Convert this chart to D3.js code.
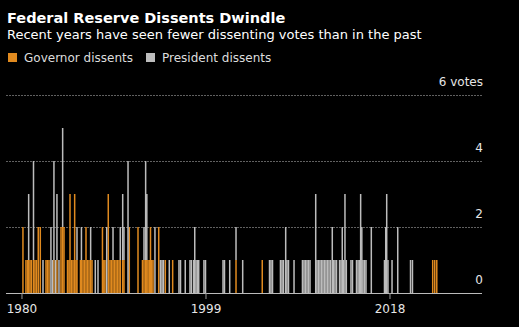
<!DOCTYPE html>
<html>
<head>
<meta charset="utf-8">
<script src="https://cdn.jsdelivr.net/npm/d3@7"></script>
<style>
  body { margin: 0; background: #000; }
  svg { display: block; }
  text { font-family: "DejaVu Sans", sans-serif; }
</style>
</head>
<body>
<svg id="chart"></svg>
<script>
// FOMC meetings: [decimal year, governor dissents, president dissents]
var meetings = [
  [1980.10, 2, 0], [1980.41, 1, 0], [1980.57, 1, 0], [1980.69, 1, 2], [1980.83, 1, 0],
  [1980.98, 1, 0], [1981.19, 1, 3], [1981.34, 1, 0], [1981.50, 1, 0], [1981.68, 2, 0],
  [1981.89, 2, 0], [1982.17, 0, 1], [1982.48, 1, 0], [1982.63, 1, 0], [1982.79, 1, 0],
  [1982.99, 0, 2], [1983.15, 0, 1], [1983.30, 1, 3], [1983.46, 0, 1], [1983.61, 1, 2],
  [1983.82, 0, 1], [1984.03, 2, 0], [1984.20, 2, 3], [1984.34, 2, 0], [1984.70, 1, 0],
  [1984.85, 1, 0], [1984.96, 3, 0], [1985.11, 1, 0], [1985.27, 1, 0], [1985.44, 3, 0],
  [1985.58, 1, 0], [1985.68, 1, 1], [1986.04, 1, 0], [1986.14, 1, 1], [1986.30, 1, 0],
  [1986.45, 1, 0], [1986.61, 2, 0], [1986.76, 1, 0], [1986.92, 1, 0], [1987.09, 1, 1],
  [1987.23, 1, 0], [1987.57, 0, 1], [1987.85, 0, 1], [1988.31, 2, 0], [1988.45, 1, 0],
  [1988.57, 1, 0], [1988.75, 0, 2], [1988.91, 3, 0], [1989.09, 1, 0], [1989.24, 1, 0],
  [1989.40, 1, 1], [1989.55, 1, 0], [1989.71, 1, 0], [1989.86, 1, 0], [1990.02, 1, 0],
  [1990.15, 1, 1], [1990.40, 1, 2], [1990.53, 1, 1], [1990.95, 0, 4], [1991.08, 2, 0],
  [1991.98, 2, 0], [1992.44, 1, 0], [1992.60, 1, 1], [1992.77, 1, 3], [1992.89, 1, 2],
  [1993.01, 1, 0], [1993.15, 1, 0], [1993.27, 2, 0], [1993.40, 1, 0], [1993.53, 1, 0],
  [1993.73, 0, 2], [1994.12, 2, 0], [1994.30, 0, 1], [1994.46, 0, 1], [1994.61, 0, 1],
  [1994.80, 1, 0], [1995.21, 0, 1], [1995.56, 1, 0], [1996.21, 0, 1], [1996.37, 0, 1],
  [1996.86, 0, 1], [1997.35, 0, 1], [1997.50, 0, 1], [1997.73, 0, 1], [1997.84, 0, 2],
  [1997.97, 0, 1], [1998.12, 0, 1], [1998.25, 0, 1], [1998.79, 0, 1], [1998.95, 0, 1],
  [2000.76, 0, 1], [2000.91, 0, 1], [2001.45, 0, 1], [2002.10, 1, 1], [2002.79, 0, 1],
  [2004.81, 1, 0], [2005.56, 0, 1], [2005.71, 0, 1], [2005.87, 0, 1], [2006.69, 0, 1],
  [2006.85, 0, 1], [2007.00, 0, 1], [2007.23, 0, 2], [2007.36, 0, 1], [2007.52, 0, 1],
  [2008.09, 0, 1], [2008.96, 0, 1], [2009.12, 0, 1], [2009.27, 0, 1], [2009.43, 0, 1],
  [2009.58, 0, 1], [2009.74, 0, 1], [2010.33, 0, 3], [2010.46, 0, 1], [2010.62, 0, 1],
  [2010.77, 0, 1], [2010.93, 0, 1], [2011.08, 0, 1], [2011.24, 0, 1], [2011.39, 0, 1],
  [2011.55, 0, 1], [2011.70, 0, 1], [2011.86, 0, 1], [2012.04, 0, 2], [2012.17, 0, 1],
  [2012.32, 0, 1], [2012.48, 0, 1], [2012.79, 0, 1], [2012.94, 0, 1], [2013.07, 0, 2],
  [2013.20, 0, 1], [2013.35, 0, 3], [2013.49, 0, 1], [2013.97, 0, 1], [2014.13, 0, 1],
  [2014.54, 0, 1], [2014.70, 0, 1], [2014.85, 0, 1], [2014.97, 0, 3], [2015.09, 0, 2],
  [2015.21, 0, 1], [2015.37, 0, 1], [2015.52, 0, 1], [2016.07, 0, 2], [2017.43, 0, 1],
  [2017.56, 0, 2], [2017.66, 0, 3], [2017.79, 0, 1], [2018.21, 0, 1], [2018.80, 0, 2],
  [2020.12, 0, 1], [2020.32, 0, 1], [2022.41, 1, 0], [2022.62, 1, 0], [2022.83, 1, 0]
];

var seriesKeys = ['governor', 'president'];
var seriesNames = ['Governor dissents', 'President dissents'];
var seriesColors = ['#e08a1f', '#bdbdbd'];

var yTicks = [0, 2, 4, 6];
var xTicks = [1980, 1999, 2018];

var width = 519, height = 327;
var plotLeft = 6, plotRight = 482, plotTop = 95, plotBottom = 293;

var svg = d3.select('#chart').attr('width', width).attr('height', height);
svg.append('rect').attr('width', width).attr('height', height).attr('fill', '#000');

// title block
svg.append('text')
  .attr('x', 7).attr('y', 23)
  .attr('fill', '#fff')
  .style('font-size', '14.5px').style('font-weight', 'bold')
  .text('Federal Reserve Dissents Dwindle');
svg.append('text')
  .attr('x', 7).attr('y', 39)
  .attr('fill', '#fff')
  .style('font-size', '13px')
  .text('Recent years have seen fewer dissenting votes than in the past');

// legend
var legendX = [8, 146];
seriesNames.forEach(function (name, i) {
  var g = svg.append('g').attr('transform', 'translate(' + legendX[i] + ',53)');
  g.append('rect').attr('width', 9).attr('height', 9).attr('fill', seriesColors[i]);
  g.append('text').attr('x', 16).attr('y', 9)
    .attr('fill', '#ddd').style('font-size', '12px').text(name);
});

var x = d3.scaleLinear().domain([1978.35, 2027.5]).range([plotLeft, plotRight]);
var y = d3.scaleLinear().domain([0, 6]).range([plotBottom, plotTop]);

// dotted gridlines
svg.append('g').selectAll('line')
  .data(yTicks.filter(function (d) { return d > 0; }))
  .enter().append('line')
  .attr('x1', plotLeft).attr('x2', plotRight)
  .attr('y1', function (d) { return y(d) + 0.5; })
  .attr('y2', function (d) { return y(d) + 0.5; })
  .attr('stroke', '#606060')
  .attr('stroke-dasharray', '2,1');

// y labels sit above their gridline, right aligned
svg.append('g').selectAll('text')
  .data(yTicks)
  .enter().append('text')
  .attr('x', plotRight + 1)
  .attr('y', function (d) { return y(d) - 9; })
  .attr('text-anchor', 'end')
  .attr('fill', '#e6e6e6')
  .style('font-size', '12px')
  .text(function (d) { return d == 6 ? '6 votes' : d; });

// stacked bars, one per meeting
var rows = meetings.map(function (m) {
  return { year: m[0], governor: m[1], president: m[2] };
});
var stacked = d3.stack().keys(seriesKeys)(rows);
var barW = 1.5;

svg.append('g').selectAll('g')
  .data(stacked)
  .enter().append('g')
  .attr('fill', function (d, i) { return seriesColors[i]; })
  .selectAll('rect')
  .data(function (d) { return d.filter(function (p) { return p[1] > p[0]; }); })
  .enter().append('rect')
  .attr('x', function (p) { return x(p.data.year) - barW / 2; })
  .attr('width', barW)
  .attr('y', function (p) { return y(p[1]); })
  .attr('height', function (p) { return y(p[0]) - y(p[1]); });

// baseline and ticks
svg.append('line')
  .attr('x1', plotLeft).attr('x2', plotRight)
  .attr('y1', plotBottom + 0.5).attr('y2', plotBottom + 0.5)
  .attr('stroke', '#bbb');

var xt = svg.append('g').selectAll('g')
  .data(xTicks)
  .enter().append('g')
  .attr('transform', function (d) { return 'translate(' + x(d) + ',0)'; });
xt.append('line')
  .attr('y1', plotBottom).attr('y2', plotBottom + 6)
  .attr('stroke', '#999');
xt.append('text')
  .attr('y', plotBottom + 20)
  .attr('text-anchor', 'middle')
  .attr('fill', '#e6e6e6')
  .style('font-size', '12px')
  .text(function (d) { return d; });
</script>
</body>
</html>
